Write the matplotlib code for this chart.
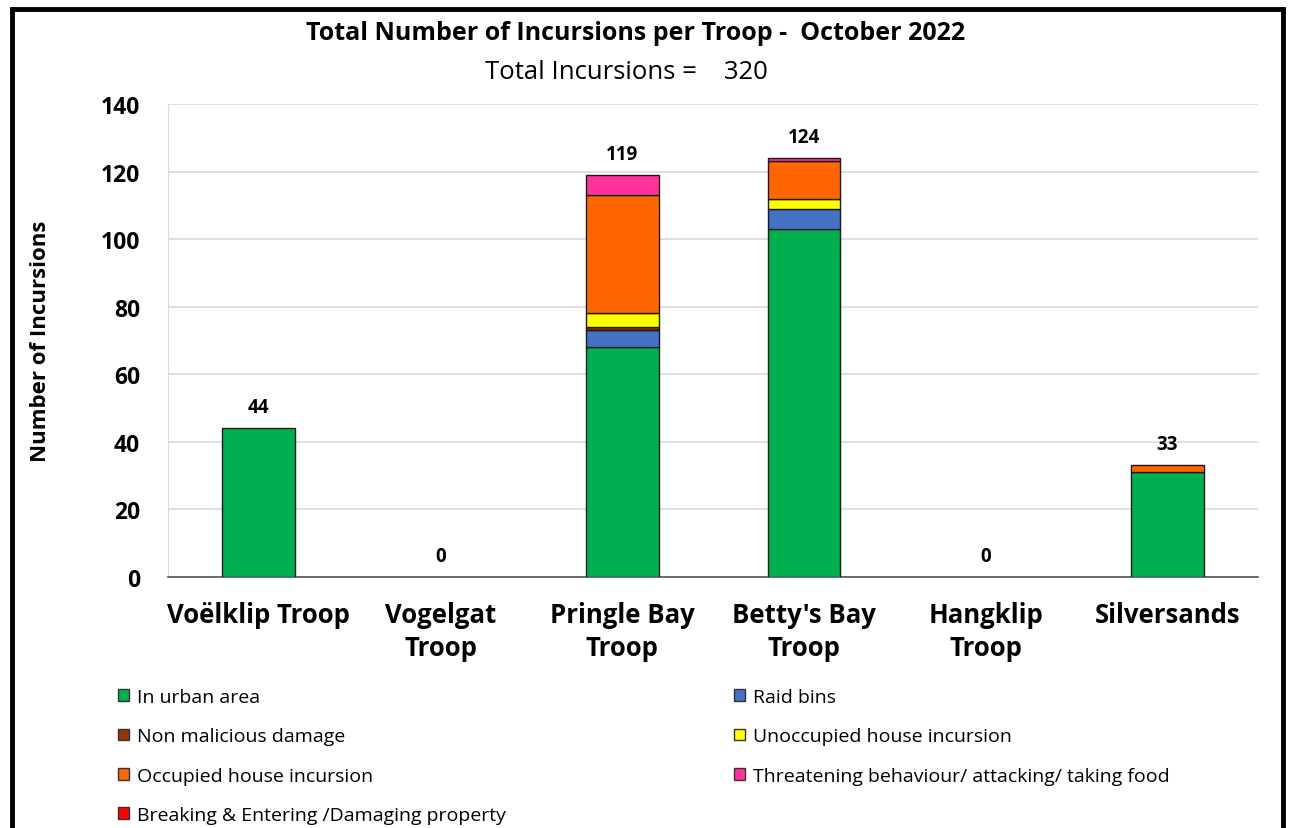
import numpy as np
import matplotlib.pyplot as plt
import matplotlib.patches as patches

plt.rcParams['font.family'] = ['Open Sans', 'DejaVu Sans']

# Data
troops = ['Voëlklip Troop', 'Vogelgat\nTroop', 'Pringle Bay\nTroop',
          "Betty's Bay\nTroop", 'Hangklip\nTroop', 'Silversands']
categories = ['In urban area', 'Raid bins', 'Non malicious damage',
              'Unoccupied house incursion', 'Occupied house incursion',
              'Threatening behaviour/ attacking/ taking food',
              'Breaking & Entering /Damaging property']
urban = [44, 0, 68, 103, 0, 31]
raid_bins = [0, 0, 5, 6, 0, 0]
non_malicious = [0, 0, 1, 0, 0, 0]
unoccupied = [0, 0, 4, 3, 0, 0]
occupied = [0, 0, 35, 11, 0, 2]
threatening = [0, 0, 6, 1, 0, 0]
breaking = [0, 0, 0, 0, 0, 0]
series = [urban, raid_bins, non_malicious, unoccupied, occupied, threatening, breaking]
colours = ['#00B050', '#4472C4', '#993300', '#FFFF00', '#FF6600', '#FF3399', '#FF0000']

fig = plt.figure(figsize=(12.89, 8.29), dpi=100)
ax = fig.add_axes([0.1303, 0.3028, 0.8457, 0.5705])

x = np.arange(len(troops))
bottom = np.zeros(len(troops))
handles = []
for vals, col, name in zip(series, colours, categories):
    vals = np.array(vals, dtype=float)
    edges = ['#1a1a1a' if v > 0 else 'none' for v in vals]
    ax.bar(x, vals, 0.4, bottom=bottom, color=col, edgecolor=edges,
           linewidth=1.0, label=name, zorder=3)
    handles.append(patches.Patch(facecolor=col, edgecolor='#333333', linewidth=1.0))
    bottom += vals

totals = bottom
for xi, t in zip(x, totals):
    ax.annotate(f'{int(t)}', (xi, t), xytext=(0, 8), textcoords='offset points',
                ha='center', va='bottom', fontsize=13.5, fontweight='bold')

ax.set_xlim(-0.5, len(troops) - 0.5)
ax.set_ylim(0, 140)
ax.set_yticks(np.arange(0, 141, 20))
ax.yaxis.grid(True, color='#d9d9d9', linewidth=1.2, zorder=0)
ax.set_axisbelow(True)
for s in ['top', 'right']:
    ax.spines[s].set_visible(False)
ax.spines['left'].set_color('#d9d9d9')
ax.spines['bottom'].set_color('#555555')
ax.spines['bottom'].set_linewidth(1.2)
ax.tick_params(axis='both', length=0)
ax.tick_params(axis='y', pad=20)
ax.tick_params(axis='x', pad=17)
ax.set_xticks(x)
ax.set_xticklabels(troops, fontsize=18.5, fontweight='bold', linespacing=1.3)
for lbl in ax.get_yticklabels():
    lbl.set_fontsize(16.5)
    lbl.set_fontweight('bold')
ax.set_ylabel('Number of Incursions', fontsize=16, fontweight='bold', labelpad=36)

fig.text(0.493, 0.96, 'Total Number of Incursions per Troop -  October 2022',
         ha='center', va='center', fontsize=18, fontweight='bold')
fig.text(0.486, 0.913, 'Total Incursions =    320', ha='center', va='center', fontsize=18.5)

# legend: column-wise order so rows read left-to-right like the original
order = [0, 2, 4, 6, 1, 3, 5]
leg = fig.legend([handles[i] for i in order], [categories[i] for i in order],
                 loc='upper left', bbox_to_anchor=(0.078, 0.19), ncol=2,
                 frameon=False, fontsize=14.0, handlelength=0.55, handleheight=0.55,
                 handletextpad=0.45, labelspacing=1.1, columnspacing=11.7)

# outer frame
frame = patches.Rectangle((12 / 1289, -0.05), (1283 - 12) / 1289, 1.05 - 10 / 829,
                          transform=fig.transFigure, fill=False, edgecolor='black',
                          linewidth=3.5)
fig.patches.append(frame)

fig.savefig('out.png', dpi=100)
